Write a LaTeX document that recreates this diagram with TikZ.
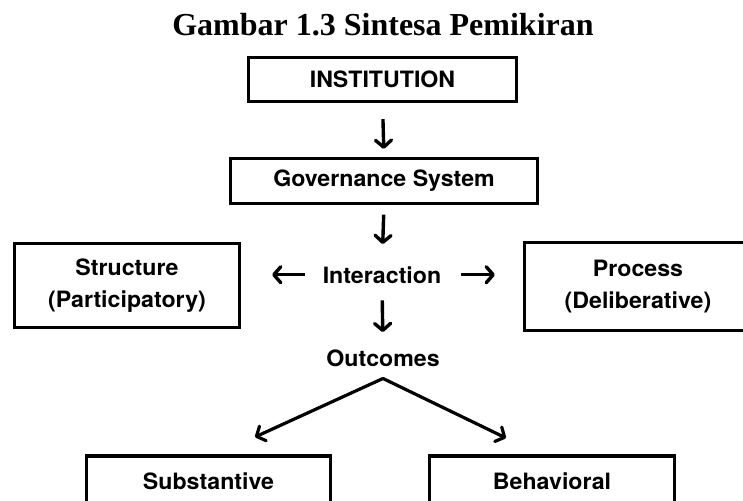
\documentclass[tikz,border=0pt]{standalone}
\usepackage{fontspec}
\setmainfont{Liberation Serif}
\newfontfamily\hv[FakeStretch=1.03]{TeX Gyre Heros}
\usetikzlibrary{arrows.meta}
\begin{document}
\begin{tikzpicture}[x=1pt,y=-1pt,
  box/.style={draw, line width=3.2pt, inner sep=0pt, align=center,
    font=\hv\bfseries\fontsize{22.5}{32}\selectfont},
  lbl/.style={inner sep=0pt, anchor=base, font=\hv\bfseries\fontsize{22.5}{32}\selectfont},
  arr/.style={line width=3.4pt, -{Straight Barb[length=7pt,width=16pt,line cap=round,line join=round]}},
]
\useasboundingbox (0,0) rectangle (743,500);
\node[inner sep=0pt, anchor=base, font=\bfseries\fontsize{32}{36}\selectfont] (title) at (383,35.5) {Gambar 1.3 Sintesa Pemikiran};

\node[box, minimum width=268pt, minimum height=44pt] (inst) at (382.5,79.5) {INSTITUTION};
\node[box, minimum width=307pt, minimum height=45pt] (gov) at (384,181) {Governance System};
\node[box, minimum width=225pt, minimum height=84pt] (struct) at (127,285.5) {Structure\\(Participatory)};
\node[box, minimum width=227pt, minimum height=88pt] (proc) at (638,286.5) {Process\\(Deliberative)};
\node[lbl] (inter) at (382,283) {Interaction};
\node[lbl] (out) at (383,366) {Outcomes};
\node[box, minimum width=244pt, minimum height=50pt] (subst) at (208.5,481) {Substantive};
\node[box, minimum width=245pt, minimum height=50pt] (behav) at (552,481) {Behavioral};

\draw[arr, shorten <=16pt, shorten >=8pt] (inst.south) -- (gov.north);
\draw[arr, shorten <=9.5pt, shorten >=22pt] (gov.south) -- (inter.north);
\draw[arr, shorten <=18pt, shorten >=31pt] (inter.west) -- (inter.west -| struct.east);
\draw[arr, shorten <=20pt, shorten >=28pt] (inter.east) -- (inter.east -| proc.west);
\draw[arr, shorten <=17pt, shorten >=17pt] (inter.south) -- (out.north);

\coordinate (apex) at ([yshift=-12pt]out.south);
\coordinate (ltip) at (255,437);
\coordinate (rtip) at (506,438);
\draw[arr, line width=3.2pt] (apex) -- (ltip);
\draw[arr, line width=3.2pt] (apex) -- (rtip);
\fill ([xshift=-2pt]apex) -- ([yshift=-1.6pt]apex) -- ([xshift=2pt]apex) -- ([yshift=1.6pt]apex) -- cycle;
\end{tikzpicture}
\end{document}
